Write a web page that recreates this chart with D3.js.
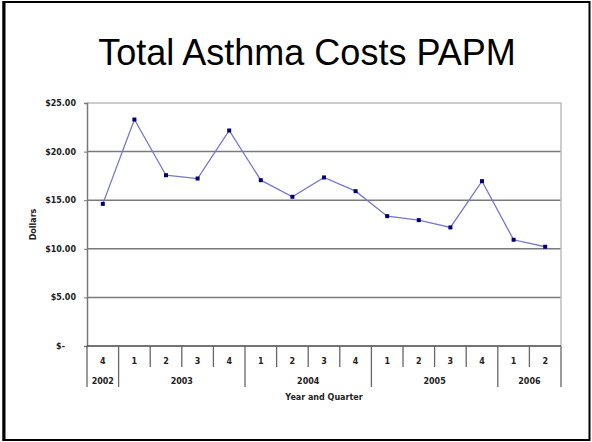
<!DOCTYPE html>
<html>
<head>
<meta charset="utf-8">
<script src="https://cdn.jsdelivr.net/npm/d3@7"></script>
<style>
  html, body { margin: 0; padding: 0; background: #fff; }
  svg { display: block; }
</style>
</head>
<body>
<svg id="chart" width="592" height="442"></svg>
<script>
// Quarterly PAPM asthma costs
const quarters = ["4", "1", "2", "3", "4", "1", "2", "3", "4", "1", "2", "3", "4", "1", "2"];
const years = [
  { label: "2002", start: 0, end: 1 },
  { label: "2003", start: 1, end: 5 },
  { label: "2004", start: 5, end: 9 },
  { label: "2005", start: 9, end: 13 },
  { label: "2006", start: 13, end: 15 }
];
const costs = [14.62, 23.3, 17.57, 17.23, 22.17, 17.06, 15.35, 17.34, 15.93, 13.36, 12.95, 12.2, 16.96, 10.93, 10.21];
const yTicks = [0, 5, 10, 15, 20, 25];

const svg = d3.select("#chart");

// slide frame
svg.append("rect").attr("x", 3.5).attr("y", 2).attr("width", 586).attr("height", 438)
  .attr("fill", "#fff").attr("stroke", "#000").attr("stroke-width", 2);
svg.append("line").attr("x1", 4).attr("x2", 4).attr("y1", 1).attr("y2", 441)
  .attr("stroke", "#000").attr("stroke-width", 3);

// title
svg.append("text").attr("x", 307).attr("y", 65)
  .attr("text-anchor", "middle")
  .attr("font-family", "Arial, 'Liberation Sans', sans-serif")
  .attr("font-size", 36)
  .attr("fill", "#000")
  .text("Total Asthma Costs PAPM");

const m = { left: 87, right: 561, top: 103, bottom: 346 };

const x = d3.scaleBand().domain(d3.range(costs.length)).range([m.left, m.right]).padding(0);
const y = d3.scaleLinear().domain([0, 25]).range([m.bottom, m.top]);

const tickFont = "'DejaVu Sans', Tahoma, Verdana, sans-serif";

// horizontal gridlines
svg.append("g").selectAll("line").data(yTicks.filter(d => d > 0 && d < 25)).join("line")
  .attr("x1", m.left).attr("x2", m.right)
  .attr("y1", d => y(d)).attr("y2", d => y(d))
  .attr("stroke", "#7a7a7a").attr("stroke-width", 1.5);

// plot area border (top and right)
svg.append("path")
  .attr("d", `M${m.left},${y(25)}H${m.right}V${m.bottom}`)
  .attr("fill", "none").attr("stroke", "#bdbdbd").attr("stroke-width", 1.5);

// y axis
const yAxis = d3.axisLeft(y).tickValues(yTicks).tickSize(3).tickPadding(8)
  .tickFormat(d => d === 0 ? "$-" : "$" + d3.format(".2f")(d));
const gy = svg.append("g").attr("transform", `translate(${m.left},0)`).call(yAxis);
gy.select(".domain").attr("stroke", "#777").attr("stroke-width", 1.5);
gy.selectAll(".tick line").attr("stroke", "#777");
gy.selectAll(".tick text")
  .attr("font-family", tickFont).attr("font-weight", "bold").attr("font-size", 8)
  .attr("fill", "#222")
  .attr("dx", d => d === 0 ? -11 : 0);

// x axis baseline
svg.append("line").attr("x1", m.left).attr("x2", m.right)
  .attr("y1", m.bottom).attr("y2", m.bottom)
  .attr("stroke", "#444").attr("stroke-width", 1.5);

// quarter dividers
const bounds = d3.range(costs.length + 1).map(i => i < costs.length ? x(i) : m.right);
const yearBounds = new Set(years.flatMap(yr => [yr.start, yr.end]));
svg.append("g").selectAll("line").data(d3.range(costs.length + 1)).join("line")
  .attr("x1", i => bounds[i]).attr("x2", i => bounds[i])
  .attr("y1", m.bottom)
  .attr("y2", i => yearBounds.has(i) ? 387 : 367)
  .attr("stroke", "#666").attr("stroke-width", 1.3);

// quarter labels
svg.append("g").selectAll("text").data(quarters).join("text")
  .attr("x", (d, i) => x(i) + x.bandwidth() / 2)
  .attr("y", 364)
  .attr("text-anchor", "middle")
  .attr("font-family", tickFont).attr("font-weight", "bold").attr("font-size", 8)
  .attr("fill", "#222")
  .text(d => d);

// year labels
svg.append("g").selectAll("text").data(years).join("text")
  .attr("x", d => (bounds[d.start] + bounds[d.end]) / 2)
  .attr("y", 384)
  .attr("text-anchor", "middle")
  .attr("font-family", tickFont).attr("font-weight", "bold").attr("font-size", 8)
  .attr("fill", "#222")
  .text(d => d.label);

// axis titles
svg.append("text").attr("x", (m.left + m.right) / 2).attr("y", 400)
  .attr("text-anchor", "middle")
  .attr("font-family", tickFont).attr("font-weight", "bold").attr("font-size", 8)
  .attr("fill", "#222")
  .text("Year and Quarter");

svg.append("text")
  .attr("transform", `translate(36,${(m.top + m.bottom) / 2}) rotate(-90)`)
  .attr("text-anchor", "middle")
  .attr("font-family", tickFont).attr("font-weight", "bold").attr("font-size", 8)
  .attr("fill", "#222")
  .text("Dollars");

// cost line
const line = d3.line()
  .x((d, i) => x(i) + x.bandwidth() / 2)
  .y(d => y(d));
svg.append("path").datum(costs)
  .attr("d", line)
  .attr("fill", "none")
  .attr("stroke", "#7777cc").attr("stroke-width", 1.3);

// markers
svg.append("g").selectAll("rect").data(costs).join("rect")
  .attr("x", (d, i) => x(i) + x.bandwidth() / 2 - 2)
  .attr("y", d => y(d) - 2)
  .attr("width", 4).attr("height", 4)
  .attr("fill", "#000070");
</script>
</body>
</html>
